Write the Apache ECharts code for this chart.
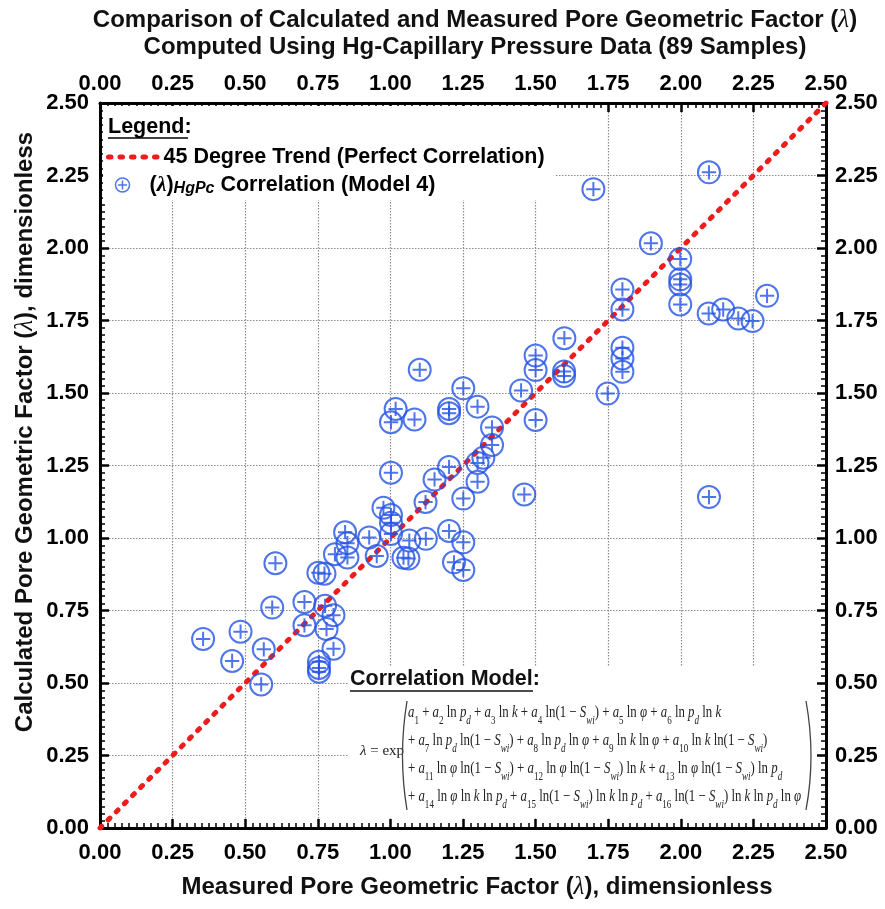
<!DOCTYPE html>
<html><head><meta charset="utf-8">
<script src="https://cdn.jsdelivr.net/npm/echarts@6/dist/echarts.min.js"></script>
<style>html,body{margin:0;padding:0;background:#fff}#c{width:885px;height:909px}</style>
</head><body><div id="c"></div>
<script>
// ---- data ----
const measured = [
  0.844, 0.852, 0.809, 0.852, 0.604, 0.752, 0.773, 0.704, 0.775, 0.804, 0.593,
  0.704, 0.780, 0.355, 0.484, 0.564, 0.804, 0.455, 0.754, 0.754, 0.754, 0.555,
  1.599, 1.500, 1.500, 1.598, 1.598, 1.101, 1.251, 1.450, 1.748, 1.018, 1.002,
  1.083, 1.202, 1.202, 1.300, 1.500, 1.350, 1.350, 1.320, 1.300, 1.300, 1.202,
  1.152, 1.002, 1.461, 1.251, 1.121, 0.976, 1.002, 1.002, 1.002, 0.927, 1.065,
  1.122, 1.202, 1.251, 0.953, 1.045, 1.062, 1.219, 1.251,
  1.699, 2.097, 1.897, 1.998, 1.998, 1.998, 1.998, 1.799, 1.799, 2.297, 2.096,
  2.146, 2.198, 2.247, 1.799, 1.799, 1.799, 2.097
];
const calculated = [
  1.020, 0.982, 0.944, 0.933, 0.913, 0.880, 0.877, 0.779, 0.766, 0.734, 0.760,
  0.699, 0.686, 0.652, 0.677, 0.616, 0.618, 0.576, 0.573, 0.552, 0.539, 0.495,
  1.689, 1.629, 1.579, 1.574, 1.559, 1.580, 1.516, 1.509, 1.498, 1.445, 1.399,
  1.409, 1.445, 1.430, 1.453, 1.407, 1.381, 1.321, 1.277, 1.259, 1.194, 1.245,
  1.202, 1.225, 1.150, 1.136, 1.124, 1.104, 1.079, 1.053, 1.014, 1.002, 0.991,
  0.997, 1.024, 0.985, 0.938, 0.932, 0.929, 0.916, 0.890,
  2.203, 2.261, 2.016, 1.962, 1.892, 1.874, 1.805, 1.857, 1.788, 1.835, 1.774,
  1.788, 1.757, 1.748, 1.656, 1.619, 1.573, 1.141
];
const trendX = [0, 2.5];
const trendY = [0, 2.5];
const axisMin = 0, axisMax = 2.5, axisStep = 0.25;
const tickLabels = ['0.00','0.25','0.50','0.75','1.00','1.25','1.50','1.75','2.00','2.25','2.50'];
const trendName = '45 Degree Trend (Perfect Correlation)';
const corrName = 'Correlation (Model 4)';

// ---- build ----
const SANS = 'Liberation Sans, Arial, sans-serif';
const SERIF = 'Liberation Serif, Times New Roman, serif';
const BLUE = '#2353e6';
const RED = '#ee1c1c';
const markerPath = 'path://M0,-10A10,10 0 1,1 0,10A10,10 0 1,1 0,-10Z M-6.5,0L6.5,0 M0,-6.5L0,6.5';

const fmt = v => tickLabels[Math.round((v - axisMin) / axisStep)] ?? v.toFixed(2);

function axis(pos, split, margin) {
  return {
    type: 'value', position: pos, min: axisMin, max: axisMax, interval: axisStep,
    axisLine: { show: true, onZero: false, lineStyle: { color: '#000', width: 3 } },
    axisTick: { show: true, inside: true, length: 9, lineStyle: { color: '#000', width: 2.5 } },
    minorTick: { show: true, splitNumber: 10, length: 5, lineStyle: { color: '#000', width: 1.5 } },
    axisLabel: { show: true, formatter: fmt, margin: margin, color: '#000',
      fontFamily: SANS, fontWeight: 'bold', fontSize: 22, showMinLabel: true, showMaxLabel: true },
    splitLine: { show: split, lineStyle: { color: '#8a8a8a', width: 1.2, type: [1.5, 1.5] } },
    minorSplitLine: { show: false }
  };
}

const scatterData = measured.map((x, i) => [x, calculated[i]]);
const trendData = trendX.map((x, i) => [x, trendY[i]]);

// equation rich text
const A = n => `{v|a}{s|${n}}`;
const P = '{v|p}{sv|d}';
const K = '{v|k}';
const PHI = '{v|φ}';
const LN = '{n| ln }';
const OMS = '{n| ln(1 − }{v|S}{sv|wi}{n|)}';
const PL = '{n| + }';
const eqLines = [
  A(1) + PL + A(2) + LN + P + PL + A(3) + LN + K + PL + A(4) + OMS + PL + A(5) + LN + PHI + PL + A(6) + LN + P + LN + K,
  '{n|+ }' + A(7) + LN + P + OMS + PL + A(8) + LN + P + LN + PHI + PL + A(9) + LN + K + LN + PHI + PL + A(10) + LN + K + OMS,
  '{n|+ }' + A(11) + LN + PHI + OMS + PL + A(12) + LN + PHI + OMS + LN + K + PL + A(13) + LN + PHI + OMS + LN + P,
  '{n|+ }' + A(14) + LN + PHI + LN + K + LN + P + PL + A(15) + OMS + LN + K + LN + P + PL + A(16) + OMS + LN + K + LN + P + LN + PHI
];
const eqFill = '#222';
const eqRich = {
  n: { fontFamily: SERIF, fontSize: 17, lineHeight: 28, fill: eqFill },
  v: { fontFamily: SERIF, fontSize: 17, fontStyle: 'italic', lineHeight: 28, fill: eqFill },
  s: { fontFamily: SERIF, fontSize: 12, lineHeight: 17, verticalAlign: 'bottom', fill: eqFill },
  sv: { fontFamily: SERIF, fontSize: 12, fontStyle: 'italic', lineHeight: 17, verticalAlign: 'bottom', fill: eqFill }
};

const titleStyle = { fontFamily: SANS, fontWeight: 'bold', fontSize: 24, fill: '#111' };
const lamRich = { l: { fontFamily: SERIF, fontStyle: 'italic', fontSize: 25, fill: '#111' } };

const option = {
  backgroundColor: '#fff',
  animation: false,
  grid: { left: 100, top: 103, width: 726, height: 725, containLabel: false },
  xAxis: [axis('bottom', true, 14), axis('top', false, 8)],
  yAxis: [axis('left', true, 11), axis('right', false, 9)],
  legend: [
    { data: [trendName], left: 106, top: 146, itemWidth: 50, itemHeight: 14, padding: 0,
      selectedMode: false,
      itemStyle: { color: 'transparent', borderWidth: 0, opacity: 0 },
      lineStyle: { width: 5, type: [2.5, 9], color: RED, cap: 'round', opacity: 1 },
      textStyle: { fontFamily: SANS, fontWeight: 'bold', fontSize: 21.5, color: '#000' } },
    { data: [{ name: corrName, icon: markerPath }], left: 113, top: 174, itemWidth: 44, itemHeight: 14, padding: 0,
      selectedMode: false,
      itemStyle: { color: 'none', borderColor: BLUE, borderWidth: 1.5 },
      formatter: () => '{p|(}{l|λ}{p|)}{sub|HgPc}{p| Correlation (Model 4)}',
      textStyle: { fontFamily: SANS, fontWeight: 'bold', fontSize: 21.5, color: '#000',
        rich: {
          p: { fontFamily: SANS, fontWeight: 'bold', fontSize: 21.5, color: '#000', lineHeight: 24 },
          l: { fontFamily: SERIF, fontStyle: 'italic', fontSize: 22, color: '#000', lineHeight: 24 },
          sub: { fontFamily: SANS, fontWeight: 'bold', fontStyle: 'italic', fontSize: 16, color: '#000', lineHeight: 14, verticalAlign: 'bottom' }
        } } }
  ],
  series: [
    { name: trendName, type: 'line', data: trendData, xAxisIndex: 0, yAxisIndex: 0,
      symbol: 'none', z: 3,
      lineStyle: { color: RED, width: 5, type: [2.5, 9], cap: 'round' } },
    { name: corrName, type: 'scatter', data: scatterData, xAxisIndex: 0, yAxisIndex: 0,
      symbol: markerPath, symbolSize: 22, z: 4,
      itemStyle: { color: 'none', borderColor: BLUE, borderWidth: 2 } }
  ],
  graphic: [
    // white background boxes for legend and equation
    { type: 'rect', z: 1, shape: { x: 103, y: 106, width: 452, height: 94 }, style: { fill: '#fff' } },
    { type: 'rect', z: 1, shape: { x: 348, y: 666, width: 468, height: 152 }, style: { fill: '#fff' } },
    // titles
    { type: 'text', z: 5, x: 475, y: 20, style: Object.assign({ text: 'Comparison of Calculated and Measured Pore Geometric Factor ({l|λ})', rich: lamRich, textAlign: 'center', textVerticalAlign: 'middle' }, titleStyle) },
    { type: 'text', z: 5, x: 475, y: 47, style: Object.assign({ text: 'Computed Using Hg-Capillary Pressure Data (89 Samples)', textAlign: 'center', textVerticalAlign: 'middle' }, titleStyle) },
    { type: 'text', z: 5, x: 477, y: 887, style: Object.assign({ text: 'Measured Pore Geometric Factor ({l|λ}), dimensionless', rich: lamRich, textAlign: 'center', textVerticalAlign: 'middle' }, titleStyle) },
    { type: 'text', z: 5, x: 25, y: 432, rotation: Math.PI / 2, style: Object.assign({ text: 'Calculated Pore Geometric Factor ({l|λ}), dimensionless', rich: lamRich, textAlign: 'center', textVerticalAlign: 'middle' }, titleStyle) },
    // legend header
    { type: 'text', z: 5, x: 108, y: 127, style: { text: 'Legend:', fontFamily: SANS, fontWeight: 'bold', fontSize: 21.5, fill: '#000', textVerticalAlign: 'middle' } },
    { type: 'line', z: 5, shape: { x1: 108, y1: 138, x2: 188, y2: 138 }, style: { stroke: '#000', lineWidth: 1.6 } },
    // correlation model header
    { type: 'text', z: 5, x: 350, y: 679, style: { text: 'Correlation Model:', fontFamily: SANS, fontWeight: 'bold', fontSize: 21.5, fill: '#111', textVerticalAlign: 'middle' } },
    { type: 'line', z: 5, shape: { x1: 350, y1: 691, x2: 533, y2: 691 }, style: { stroke: '#111', lineWidth: 1.6 } },
    // equation
    { type: 'text', z: 5, x: 360, y: 751, style: { text: '{v|λ}{n| = exp}', rich: { v: { fontFamily: SERIF, fontStyle: 'italic', fontSize: 15, fill: eqFill }, n: { fontFamily: SERIF, fontSize: 15, fill: eqFill } }, textVerticalAlign: 'middle' } },
    { type: 'text', z: 5, x: 408, y: 755, scaleX: 0.755, style: { text: eqLines.join('\n'), rich: eqRich, fontFamily: SERIF, fontSize: 17, fill: eqFill, textVerticalAlign: 'middle' } },
    { type: 'bezierCurve', z: 5, shape: { x1: 407, y1: 701, cpx1: 398, cpy1: 756, x2: 407, y2: 810 }, style: { stroke: '#444', lineWidth: 1.3, fill: 'none' } },
    { type: 'bezierCurve', z: 5, shape: { x1: 806, y1: 701, cpx1: 816, cpy1: 756, x2: 806, y2: 810 }, style: { stroke: '#444', lineWidth: 1.3, fill: 'none' } }
  ]
};

const chart = echarts.init(document.getElementById('c'), null, { renderer: 'canvas' });
chart.setOption(option);
</script>
</body></html>
